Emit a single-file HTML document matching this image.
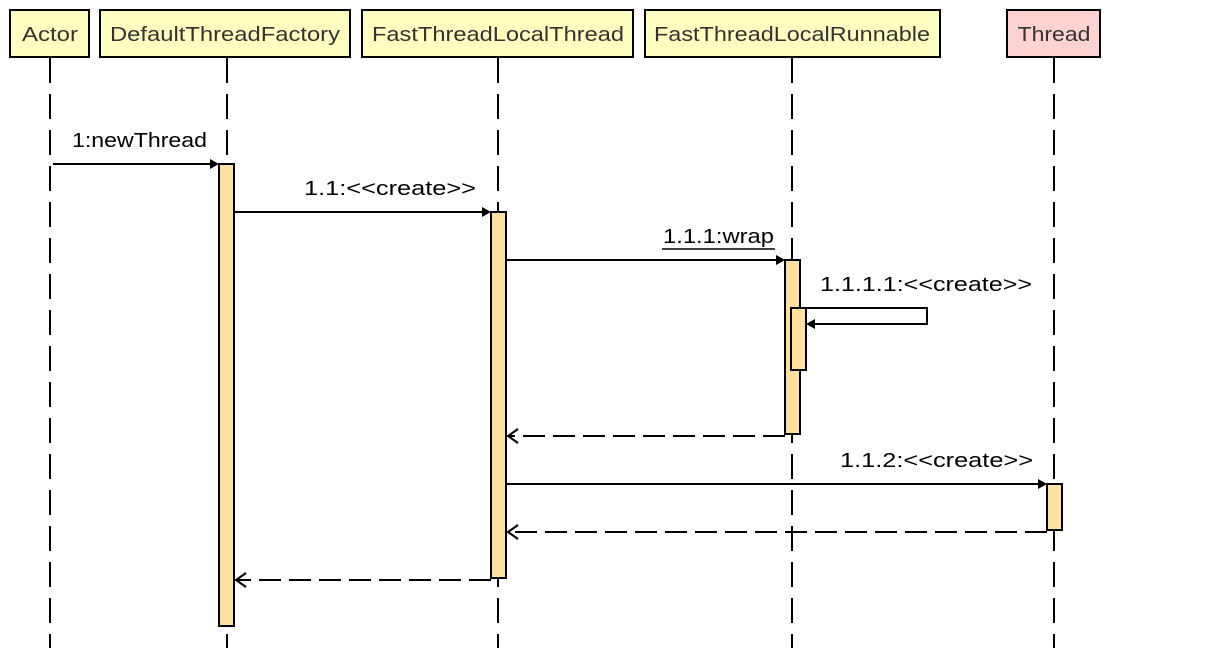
<!DOCTYPE html>
<html><head><meta charset="utf-8"><style>html,body{margin:0;padding:0;background:#fff;width:1208px;height:648px;overflow:hidden}</style></head>
<body>
<svg width="1208" height="648" viewBox="0 0 1208 648" xmlns="http://www.w3.org/2000/svg" font-family="Liberation Sans, sans-serif">
<g stroke="#000" stroke-width="2" stroke-dasharray="25 11" fill="none">
<line x1="50" y1="58" x2="50" y2="648"/>
<line x1="227" y1="58" x2="227" y2="648"/>
<line x1="498" y1="58" x2="498" y2="648"/>
<line x1="792" y1="58" x2="792" y2="648"/>
<line x1="1054" y1="58" x2="1054" y2="648"/>
</g>
<g stroke="#000" stroke-width="2">
<rect x="10" y="10" width="79" height="47" fill="#ffffc0"/>
<rect x="100" y="10" width="250" height="47" fill="#ffffc0"/>
<rect x="362" y="10" width="271" height="47" fill="#ffffc0"/>
<rect x="645" y="10" width="295" height="47" fill="#ffffc0"/>
<rect x="1007" y="10" width="93" height="47" fill="#ffd2d2"/>
</g>
<g font-size="20" fill="#333" text-anchor="middle">
<text x="50" y="41" textLength="56" lengthAdjust="spacingAndGlyphs">Actor</text>
<text x="225" y="41" textLength="230" lengthAdjust="spacingAndGlyphs">DefaultThreadFactory</text>
<text x="498" y="41" textLength="252" lengthAdjust="spacingAndGlyphs">FastThreadLocalThread</text>
<text x="792" y="41" textLength="276" lengthAdjust="spacingAndGlyphs">FastThreadLocalRunnable</text>
<text x="1054" y="41" textLength="73" lengthAdjust="spacingAndGlyphs">Thread</text>
</g>
<g stroke="#000" stroke-width="2" fill="#ffe0a0">
<rect x="219" y="164" width="15" height="462"/>
<rect x="491" y="212" width="15" height="366"/>
<rect x="785" y="260" width="15" height="174"/>
<rect x="791" y="308" width="15" height="62"/>
<rect x="1047" y="484" width="15" height="46"/>
</g>
<g stroke="#000" stroke-width="2" fill="none">
<line x1="53" y1="164" x2="212" y2="164"/>
<line x1="234" y1="212" x2="484" y2="212"/>
<line x1="506" y1="260" x2="778" y2="260"/>
<polyline points="800,308 927,308 927,324 814,324"/>
<line x1="506" y1="484" x2="1040" y2="484"/>
</g>
<g fill="#000">
<polygon points="219,164 210,159 210,169"/>
<polygon points="491,212 482,207 482,217"/>
<polygon points="785,260 776,255 776,265"/>
<polygon points="806,324 815,319 815,329"/>
<polygon points="1047,484 1038,479 1038,489"/>
</g>
<g stroke="#000" stroke-width="2" fill="none">
<line x1="785" y1="436" x2="508" y2="436" stroke-dasharray="22 8"/>
<line x1="1047" y1="532" x2="508" y2="532" stroke-dasharray="22 8"/>
<line x1="491" y1="580" x2="236" y2="580" stroke-dasharray="22 8"/>
<polyline points="518,429 508,436 518,443"/>
<polyline points="518,525 508,532 518,539"/>
<polyline points="246,573 236,580 246,587"/>
<line x1="662" y1="249" x2="775" y2="249" stroke-width="1.5"/>
</g>
<g font-size="20" fill="#000">
<text x="72" y="147" textLength="135" lengthAdjust="spacingAndGlyphs">1:newThread</text>
<text x="304" y="195" textLength="172" lengthAdjust="spacingAndGlyphs">1.1:&lt;&lt;create&gt;&gt;</text>
<text x="663" y="243" textLength="111" lengthAdjust="spacingAndGlyphs">1.1.1:wrap</text>
<text x="820" y="291" textLength="212" lengthAdjust="spacingAndGlyphs">1.1.1.1:&lt;&lt;create&gt;&gt;</text>
<text x="840" y="467" textLength="193" lengthAdjust="spacingAndGlyphs">1.1.2:&lt;&lt;create&gt;&gt;</text>
</g>
</svg>
</body></html>
